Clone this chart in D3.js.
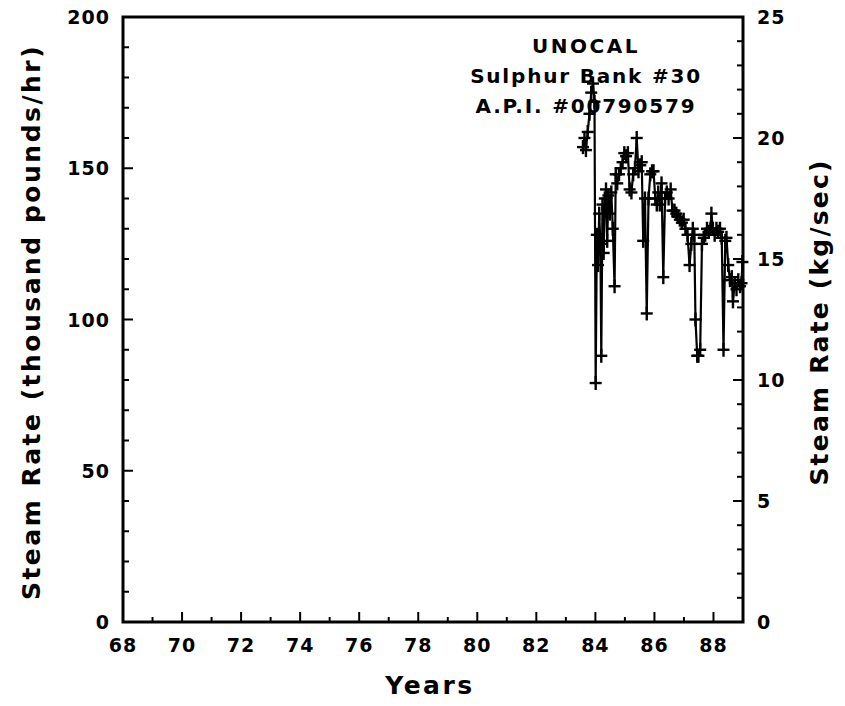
<!DOCTYPE html>
<html><head><meta charset="utf-8">
<script src="https://cdn.jsdelivr.net/npm/d3@7"></script>
<style>body{margin:0;background:#fff}svg{display:block}text{font-family:"DejaVu Sans",Verdana,sans-serif;font-weight:bold;fill:#000}</style>
</head><body><svg id="c" width="845" height="706"></svg>
<script>
const years = [83.58,83.63,83.68,83.74,83.80,83.86,83.92,83.97,84.01,84.05,84.09,84.13,84.17,84.20,84.24,84.28,84.32,84.36,84.40,84.44,84.49,84.54,84.59,84.65,84.69,84.74,84.80,84.86,84.92,84.98,85.04,85.10,85.16,85.22,85.28,85.34,85.40,85.46,85.52,85.57,85.62,85.68,85.74,85.80,85.86,85.92,85.97,86.03,86.08,86.13,86.18,86.24,86.30,86.36,86.42,86.48,86.55,86.61,86.68,86.74,86.80,86.86,86.93,86.99,87.05,87.12,87.19,87.25,87.30,87.35,87.39,87.45,87.49,87.55,87.61,87.67,87.72,87.78,87.84,87.90,87.93,87.98,88.04,88.10,88.16,88.22,88.28,88.34,88.40,88.44,88.50,88.56,88.62,88.66,88.72,88.78,88.84,88.90,88.95,88.98];
const steamRate = [157,160,156,162,168,175,178,172,79,128,118,135,125,88,138,122,140,143,126,141,135,142,130,111,148,145,148,150,152,155,154,155,143,142,148,150,160,149,151,152,126,140,102,140,148,149,149,140,138,142,138,145,114,140,142,140,143,136,136,135,134,133,132,133,130,128,118,125,130,128,100,88,88,90,125,127,128,130,129,130,135,130,128,130,129,130,127,90,126,127,118,113,114,106,112,110,113,111,112,119];
const xTicks = [68,70,72,74,76,78,80,82,84,86,88];
const leftTicks = [0,50,100,150,200];
const rightTicks = [0,5,10,15,20,25];
const annotation = ["UNOCAL","Sulphur Bank #30","A.P.I. #00790579"];

const L=123, R=743, T=17, B=622;
const svg = d3.select("#c");
const x = d3.scaleLinear().domain([68,89]).range([L,R]);
const y = d3.scaleLinear().domain([0,200]).range([B,T]);
const y2 = d3.scaleLinear().domain([0,25]).range([B,T]);

// ticks (inward)
const g = svg.append("g").attr("stroke","#000").attr("stroke-width",2);
d3.range(69,89,1).forEach(v=>{
  const major = v%2===0;
  g.append("line").attr("x1",x(v)).attr("x2",x(v)).attr("y1",B).attr("y2",B-(major?10:5));
});
d3.range(10,200,10).forEach(v=>{
  const major = v%50===0;
  g.append("line").attr("x1",L).attr("x2",L+(major?10:6)).attr("y1",y(v)).attr("y2",y(v));
});
d3.range(1,25,1).forEach(v=>{
  const major = v%5===0;
  g.append("line").attr("x1",R).attr("x2",R-(major?10:6)).attr("y1",y2(v)).attr("y2",y2(v));
});
// frame
svg.append("rect").attr("x",L).attr("y",T).attr("width",R-L).attr("height",B-T)
  .attr("fill","none").attr("stroke","#000").attr("stroke-width",3);

// tick labels
svg.selectAll(".xl").data(xTicks).enter().append("text")
  .attr("x",d=>x(d)).attr("y",652).attr("text-anchor","middle").attr("font-size",19).attr("letter-spacing",1).text(d=>d);
svg.selectAll(".yl").data(leftTicks).enter().append("text")
  .attr("x",110).attr("y",d=>y(d)+7).attr("text-anchor","end").attr("font-size",19).attr("letter-spacing",1).text(d=>d);
svg.selectAll(".yr").data(rightTicks).enter().append("text")
  .attr("x",757).attr("y",d=>y2(d)+7).attr("text-anchor","start").attr("font-size",19).attr("letter-spacing",1).text(d=>d);

// titles
svg.append("text").attr("x",430).attr("y",694).attr("text-anchor","middle").attr("font-size",25).attr("letter-spacing",2.5).style("font-weight","600").text("Years");
svg.append("text").attr("transform","translate(40,322) rotate(-90)").attr("text-anchor","middle").attr("font-size",25).attr("letter-spacing",2.5).style("font-weight","600").text("Steam Rate (thousand pounds/hr)");
svg.append("text").attr("transform","translate(828,322) rotate(-90)").attr("text-anchor","middle").attr("font-size",25).attr("letter-spacing",2.2).style("font-weight","600").text("Steam Rate (kg/sec)");

// annotation
annotation.forEach((t,i)=>{
  svg.append("text").attr("x",586).attr("y",53+i*30).attr("text-anchor","middle")
    .attr("font-size",20).attr("letter-spacing",i===0?2.5:1.8).text(t);
});

// data line
const pts = years.map((yr,i)=>[yr,steamRate[i]]);
svg.append("path").datum(pts)
  .attr("d",d3.line().x(d=>x(d[0])).y(d=>y(d[1])))
  .attr("fill","none").attr("stroke","#000").attr("stroke-width",2.2);
const m = svg.append("g").attr("stroke","#000").attr("stroke-width",2.4);
pts.forEach(d=>{
  const cx=x(d[0]), cy=y(d[1]);
  m.append("line").attr("x1",cx-6).attr("x2",cx+6).attr("y1",cy).attr("y2",cy);
  m.append("line").attr("x1",cx).attr("x2",cx).attr("y1",cy-7).attr("y2",cy+7);
});
</script></body></html>
